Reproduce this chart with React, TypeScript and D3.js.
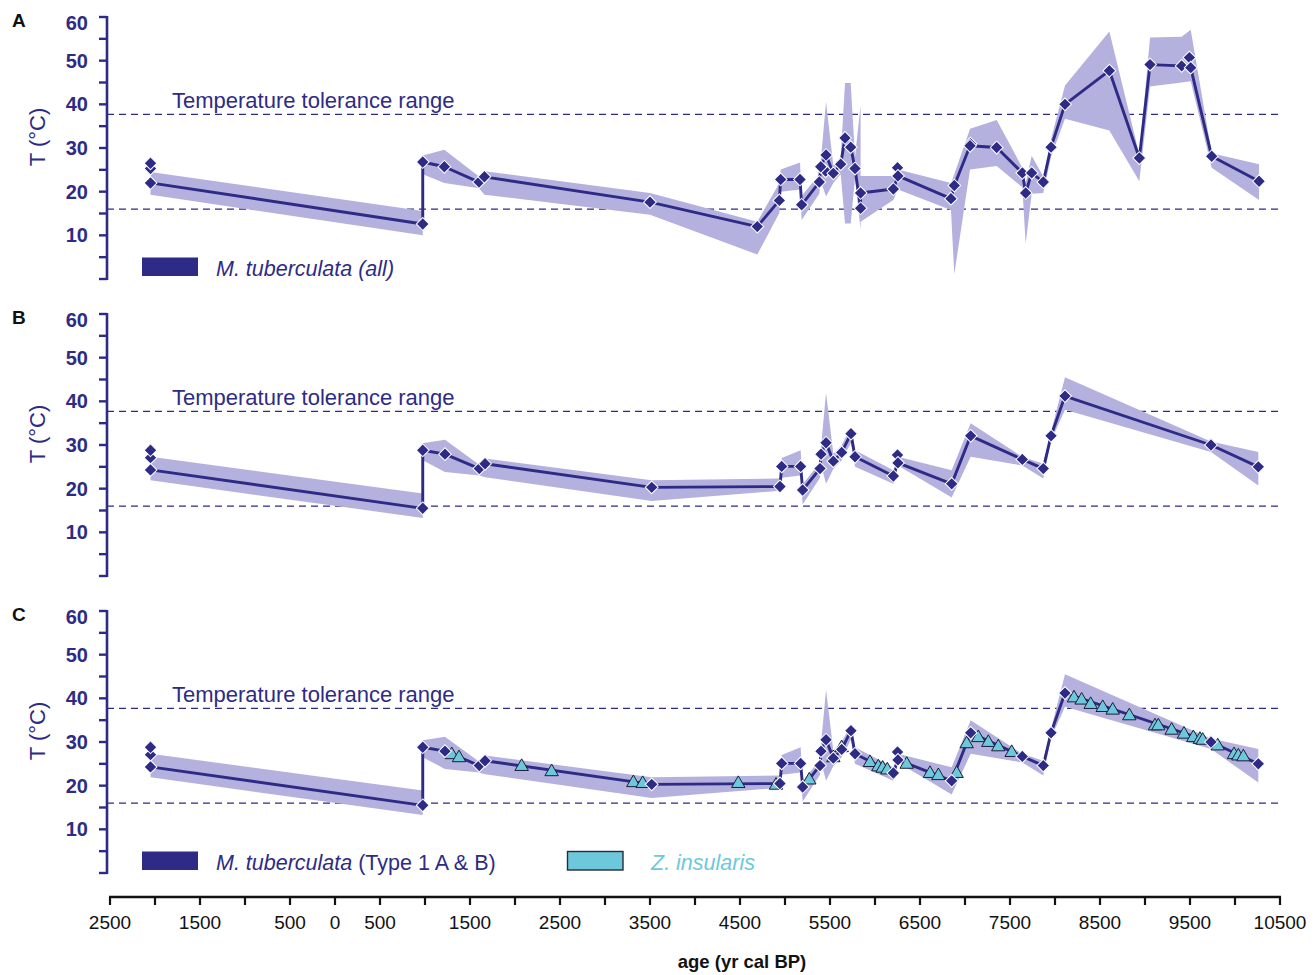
import React from 'react'
import * as d3 from 'd3'

// panel A: M. tuberculata (all), in line order
const ageA = [-2050, 975, 975, 1215, 1600, 1660, 3500, 4692, 4937, 4952, 5167, 5185, 5381, 5397, 5456, 5537, 5619, 5667, 5730, 5778, 5840, 5840, 6204, 6255, 6844, 6881, 7056, 7352, 7637, 7674, 7741, 7870, 7956, 8111, 8604, 8937, 9056, 9407, 9508, 9741, 10267]
const tempA = [22.0, 12.6, 26.8, 25.7, 22.2, 23.4, 17.6, 12.0, 18.0, 22.8, 22.8, 17.0, 22.2, 25.7, 28.4, 24.2, 26.3, 32.3, 30.2, 25.3, 16.2, 19.7, 20.6, 23.6, 18.4, 21.4, 30.5, 30.1, 24.3, 19.7, 24.3, 22.2, 30.2, 40.0, 47.7, 27.7, 49.1, 48.8, 48.4, 28.1, 22.4]
const lowA = [19.3, 10.0, 24.0, 22.0, 20.8, 19.3, 14.7, 5.6, 15.1, 20.0, 20.5, 13.5, 19.5, 22.5, 18.9, 22.0, 24.0, 12.7, 12.7, 23.0, 11.2, 13.1, 18.1, 20.5, 15.8, 1.1, 25.1, 25.9, 21.0, 8.1, 19.5, 19.7, 28.0, 36.7, 34.0, 22.4, 44.1, 45.0, 45.3, 25.5, 18.1]
const highA = [24.5, 15.6, 28.3, 29.6, 23.5, 24.7, 19.7, 13.1, 22.0, 25.1, 26.7, 19.0, 24.0, 27.0, 40.6, 26.0, 28.0, 44.9, 44.9, 28.0, 39.8, 23.6, 23.6, 25.1, 22.0, 24.0, 34.4, 36.4, 25.5, 22.0, 28.2, 23.5, 32.0, 44.3, 56.7, 28.5, 55.3, 55.5, 57.1, 28.8, 26.3]
// samples off the line
const extraAgeA = [-2050, -2050, 5452, 6250, 7060, 9493]
const extraTempA = [25.3, 26.5, 24.7, 25.5, 31.0, 50.7]

// panels B and C: M. tuberculata (Type 1 A & B)
const ageB = [-2050, 975, 975, 1222, 1603, 1667, 3519, 4944, 4963, 5174, 5196, 5389, 5400, 5456, 5537, 5630, 5733, 5778, 6204, 6255, 6852, 7063, 7637, 7870, 7956, 8111, 9733, 10259]
const tempB = [24.3, 15.5, 28.8, 27.9, 24.6, 25.7, 20.3, 20.5, 25.1, 25.1, 19.7, 24.6, 27.9, 30.5, 26.3, 28.3, 32.6, 27.3, 22.9, 25.9, 21.1, 32.1, 26.7, 24.6, 32.1, 41.2, 30.0, 25.0]
const lowB = [21.9, 13.3, 26.5, 23.8, 23.0, 22.6, 17.2, 19.5, 22.5, 23.0, 16.4, 22.5, 25.5, 21.1, 24.5, 26.5, 30.5, 25.0, 21.1, 25.3, 18.0, 27.3, 25.3, 22.3, 31.0, 38.1, 28.4, 20.7]
const highB = [27.3, 18.9, 30.4, 31.2, 25.5, 26.9, 21.9, 22.3, 27.0, 28.8, 21.0, 26.0, 29.5, 42.0, 28.0, 30.0, 34.0, 28.8, 24.2, 27.3, 24.2, 35.0, 27.3, 25.7, 33.0, 45.5, 30.8, 28.4]
const extraAgeB = [-2050, -2050, 6250]
const extraTempB = [27.1, 28.8, 27.7]

// panel C: Z. insularis
const zinsAge = [1297, 1378, 2074, 2407, 3315, 3419, 4481, 4900, 5270, 5537, 5630, 5944, 6037, 6085, 6137, 6352, 6611, 6704, 6907, 7019, 7148, 7259, 7370, 7519, 8211, 8296, 8396, 8530, 8641, 8826, 9111, 9148, 9296, 9433, 9537, 9611, 9641, 9808, 9989, 10037, 10093]
const zinsTemp = [27.3, 26.6, 24.6, 23.4, 20.9, 20.7, 20.7, 20.3, 21.5, 26.6, 28.9, 25.5, 24.5, 24.2, 23.8, 25.1, 23.0, 22.5, 23.0, 29.8, 31.2, 30.1, 29.1, 27.8, 40.3, 39.8, 38.8, 38.1, 37.5, 36.2, 33.9, 33.9, 32.9, 32.0, 31.2, 30.8, 30.6, 29.3, 27.3, 27.0, 26.8]

const toleranceRange = [16, 37.7]
const xLabelValues = [-2500, -1500, -500, 0, 500, 1500, 2500, 3500, 4500, 5500, 6500, 7500, 8500, 9500, 10500]
const yLabelValues = [10, 20, 30, 40, 50, 60]

const width = 1316
const height = 975
const navy = '#2e2b86'
const band = '#b5b1de'
const cyan = '#6cc8da'
const sans = 'Liberation Sans, Arial, sans-serif'

const x = d3.scaleLinear().domain([-2500, 10500]).range([110, 1280])
const xTicks = d3.range(-2500, 10501, 500)
const yTicks = d3.range(0, 61, 5)

const zip = (ages, temps, lo, hi) =>
  ages.map((a, i) => ({ age: a, t: temps[i], lo: lo ? lo[i] : 0, hi: hi ? hi[i] : 0 }))

const panels = [
  { letter: 'A', top: 17, pts: zip(ageA, tempA, lowA, highA), extra: zip(extraAgeA, extraTempA), zins: false },
  { letter: 'B', top: 314, pts: zip(ageB, tempB, lowB, highB), extra: zip(extraAgeB, extraTempB), zins: false },
  { letter: 'C', top: 611, pts: zip(ageB, tempB, lowB, highB), extra: zip(extraAgeB, extraTempB), zins: true },
]

const diamond = d3.symbol(d3.symbolSquare, 82)()
const triangle = d3.symbol(d3.symbolTriangle, 78)()

const Panel = ({ p }) => {
  const y = d3.scaleLinear().domain([0, 60]).range([p.top + 262, p.top])
  const area = d3.area().x(d => x(d.age)).y0(d => y(d.lo)).y1(d => y(d.hi))
  const line = d3.line().x(d => x(d.age)).y(d => y(d.t))
  const zins = zip(zinsAge, zinsTemp)

  return (
    <g>
      <text x={12} y={p.top + 10} fontFamily={sans} fontWeight="bold" fontSize={19} fill="#111">{p.letter}</text>

      {/* y axis */}
      <line x1={107} x2={107} y1={p.top - 1} y2={p.top + 263} stroke={navy} strokeWidth={2.6} />
      {yTicks.map(v => (
        <line key={v} x1={99} x2={107} y1={y(v)} y2={y(v)} stroke={navy} strokeWidth={2.4} />
      ))}
      {yLabelValues.map(v => (
        <text key={v} x={88} y={y(v) + (v === 60 ? 6 : 0)} dy="0.35em" textAnchor="end"
          fontFamily={sans} fontWeight="bold" fontSize={20} fill={navy}>{v}</text>
      ))}
      <text transform={`translate(37,${p.top + 120}) rotate(-90)`} textAnchor="middle" dy="0.35em"
        fontFamily={sans} fontSize={22} fill={navy}>T (°C)</text>

      {/* tolerance range */}
      {toleranceRange.map(v => (
        <line key={v} x1={107} x2={1283} y1={y(v)} y2={y(v)} stroke={navy} strokeWidth={1.3} strokeDasharray="7,5" />
      ))}
      <text x={172} y={p.top + 91} fontFamily={sans} fontSize={22} fill={navy}>Temperature tolerance range</text>

      <path d={area(p.pts)} fill={band} />
      <path d={line(p.pts)} fill="none" stroke={navy} strokeWidth={2.9} strokeLinejoin="round" />

      {p.zins && zins.map((d, i) => (
        <path key={'z' + i} d={triangle} transform={`translate(${x(d.age)},${y(d.t) + 1})`}
          fill={cyan} stroke="#1d1d3a" strokeWidth={1} />
      ))}

      {[...p.extra, ...p.pts].map((d, i) => (
        <path key={i} d={diamond} transform={`translate(${x(d.age)},${y(d.t)}) rotate(45)`}
          fill={navy} stroke="#fff" strokeWidth={1} />
      ))}

      {/* legends */}
      {p.letter === 'A' && (
        <g>
          <rect x={142} y={p.top + 240.5} width={56} height={18.5} fill={navy} />
          <text x={216} y={p.top + 259} fontFamily={sans} fontSize={21.5} fontStyle="italic" fill={navy}>M. tuberculata (all)</text>
        </g>
      )}
      {p.letter === 'C' && (
        <g>
          <rect x={142} y={p.top + 240.5} width={56} height={18.5} fill={navy} />
          <text x={216} y={p.top + 258.5} fontFamily={sans} fontSize={21.5} fill={navy}>
            <tspan fontStyle="italic">M. tuberculata</tspan> (Type 1 A &amp; B)
          </text>
          <rect x={567.5} y={p.top + 240.5} width={55.5} height={18.5} fill={cyan} stroke="#2a2a3a" strokeWidth={1.4} />
          <text x={651} y={p.top + 258.5} fontFamily={sans} fontSize={21.5} fontStyle="italic" fill={cyan}>Z. insularis</text>
        </g>
      )}
    </g>
  )
}

const App = () => {
  const axisY = 897
  return (
    <svg width={width} height={height} style={{ position: 'absolute', left: 0, top: 0, background: '#fff' }}>
      {panels.map(p => <Panel key={p.letter} p={p} />)}

      {/* x axis */}
      <line x1={109} x2={1281} y1={axisY} y2={axisY} stroke="#111" strokeWidth={2.6} />
      {xTicks.map(v => (
        <line key={v} x1={x(v)} x2={x(v)} y1={axisY} y2={axisY + 8} stroke="#111" strokeWidth={2.2} />
      ))}
      {xLabelValues.map(v => (
        <text key={v} x={x(v)} y={929} textAnchor="middle" fontFamily={sans} fontSize={19} fill="#111">{Math.abs(v)}</text>
      ))}
      <text x={742} y={968} textAnchor="middle" fontFamily={sans} fontWeight="bold" fontSize={18.5} fill="#111">age (yr cal BP)</text>
    </svg>
  )
}

export default App
